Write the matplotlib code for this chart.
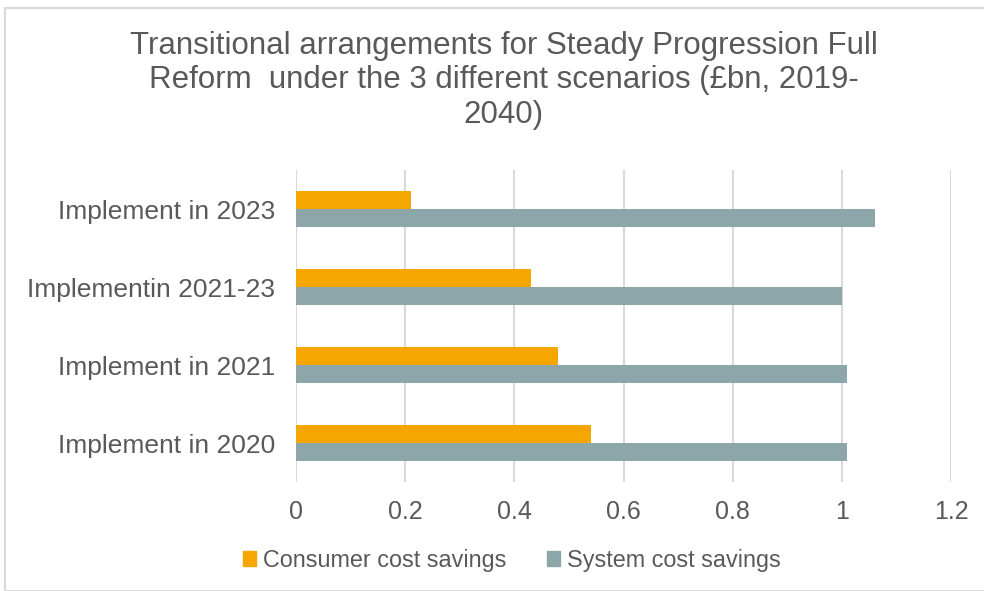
import numpy as np
from matplotlib import pyplot as plt
from matplotlib.patches import Rectangle, Patch

plt.rcParams['font.family'] = ['Liberation Sans', 'DejaVu Sans']

categories = ["Implement in 2023", "Implementin 2021-23", "Implement in 2021", "Implement in 2020"]
consumer = [0.21, 0.43, 0.48, 0.54]
system = [1.06, 1.00, 1.01, 1.01]
xticks = [0, 0.2, 0.4, 0.6, 0.8, 1, 1.2]
xticklabels = ["0", "0.2", "0.4", "0.6", "0.8", "1", "1.2"]

orange = "#F6A600"
grey = "#8CA6AA"
text_col = "#595959"

fig = plt.figure(figsize=(9.84, 5.91), dpi=100)
ax = fig.add_axes([296 / 984, 1 - 482 / 591, (951 - 296) / 984, 312 / 591])

y = np.arange(len(categories))
h = 0.23
ax.barh(y - h / 2, consumer, height=h, color=orange, zorder=3)
ax.barh(y + h / 2, system, height=h, color=grey, zorder=3)

ax.set_xlim(0, 1.2)
ax.set_ylim(len(categories) - 0.5, -0.5)
ax.set_xticks(xticks)
ax.set_xticklabels(xticklabels)
ax.set_yticks(y)
ax.set_yticklabels(categories)
ax.tick_params(axis='x', length=0, labelsize=18, colors=text_col, pad=13)
ax.tick_params(axis='y', length=0, labelsize=19, colors=text_col, pad=15)
ax.grid(axis='x', color="#D9D9D9", linewidth=1.5, zorder=0)
for s in ax.spines.values():
    s.set_visible(False)

fig.text(0.512, 0.948, "Transitional arrangements for Steady Progression Full\n"
         "Reform  under the 3 different scenarios (£bn, 2019-\n2040)",
         ha='center', va='top', fontsize=22.5, color=text_col, linespacing=1.2)

handles = [Patch(color=orange, label="Consumer cost savings"),
           Patch(color=grey, label="System cost savings")]
fig.legend(handles=handles, loc='center', bbox_to_anchor=(0.52, 0.052), ncol=2,
           frameon=False, fontsize=16.8, labelcolor=text_col, handlelength=0.55,
           handleheight=0.55, handletextpad=0.3, columnspacing=1.75)

fig.patches.append(Rectangle((5 / 984, 0), 1, 1 - 8 / 591, transform=fig.transFigure,
                             fill=False, edgecolor="#D9D9D9", linewidth=1.5))

fig.savefig("out.png")
plt.close(fig)
